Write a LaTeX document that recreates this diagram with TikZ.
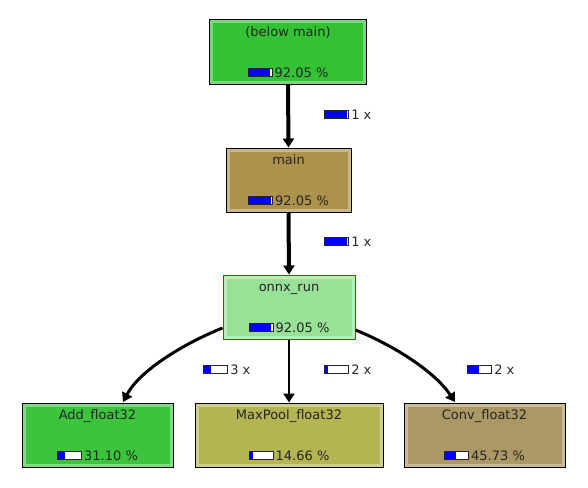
\documentclass[tikz,border=0pt]{standalone}
\usepackage{fontspec}
\setmainfont{DejaVu Sans}
\usetikzlibrary{arrows.meta}

\definecolor{fnGreen}{RGB}{51,194,51}
\definecolor{fnBrown}{RGB}{173,146,76}
\definecolor{fnLight}{RGB}{152,226,152}
\definecolor{fnAdd}{RGB}{60,196,60}
\definecolor{fnOlive}{RGB}{180,180,82}
\definecolor{fnTan}{RGB}{172,152,100}

% small cost bar, #1 = filled fraction
\newcommand*{\costbar}[1]{\tikz[baseline=-1pt]{%
  \fill[white] (0pt,0pt) rectangle (24pt,8pt);
  \fill[blue] (0pt,0pt) rectangle (#1*24pt,8pt);
  \draw[line width=0.9pt] (0pt,0pt) rectangle (24pt,8pt);}}

\tikzset{
  func/.style={draw=black,line width=1pt,minimum height=64pt,inner sep=0pt,
    path picture={\draw[white,opacity=0.35,line width=5pt]
      ([shift={(1pt,1pt)}]path picture bounding box.south west) rectangle ([shift={(-1pt,-1pt)}]path picture bounding box.north east);}},
  ftitle/.style={anchor=base,inner sep=0pt,text=black!85},
  fcost/.style={anchor=base,inner sep=0pt,text=black!85},
  calls/.style={anchor=west,inner sep=0pt,text=black!85},
  call/.style={line width=4pt,-{Triangle[length=9pt,width=11pt]}},
  thincall/.style={line width=2.6pt,-{Triangle[length=9pt,width=11pt]}},
}

\begin{document}
\begin{tikzpicture}[x=1pt,y=-1pt,font=\fontsize{13}{15}\selectfont]
\useasboundingbox (0,0) rectangle (588,487);
%%%%%%%%%%%%%%%%%%%%%%%%%%%%%% functions
\node[func,fill=fnGreen,minimum width=157pt] (below) at (288,52) {};
\node[func,fill=fnBrown,minimum width=125pt] (main) at (288.5,180) {};
\node[func,fill=fnLight,draw=red,minimum width=132pt] (onnx) at (289,307) {};
\node[func,fill=fnAdd,minimum width=151pt] (add) at (97.5,435) {};
\node[func,fill=fnOlive,minimum width=188pt] (maxpool) at (289,435) {};
\node[func,fill=fnTan,minimum width=161pt] (conv) at (484.5,435) {};
%%%%%%%%%%%%%%%%%%%%%%%%%%%%%% names and costs
\node[ftitle] (belowT) at ([yshift=-17pt]below.north) {(below main)};
\node[fcost] (belowC) at ([yshift=7.5pt]below.south) {\costbar{0.9205}\,92.05 \%};
\node[ftitle] (mainT) at ([yshift=-17pt]main.north) {main};
\node[fcost] (mainC) at ([yshift=7.5pt]main.south) {\costbar{0.9205}\,92.05 \%};
\node[ftitle] (onnxT) at ([yshift=-17pt]onnx.north) {onnx\_run};
\node[fcost] (onnxC) at ([yshift=7.5pt]onnx.south) {\costbar{0.9205}\,92.05 \%};
\node[ftitle] (addT) at ([yshift=-17pt]add.north) {Add\_float32};
\node[fcost] (addC) at ([yshift=7.5pt]add.south) {\costbar{0.311}\,31.10 \%};
\node[ftitle] (maxpoolT) at ([yshift=-17pt]maxpool.north) {MaxPool\_float32};
\node[fcost] (maxpoolC) at ([yshift=7.5pt]maxpool.south) {\costbar{0.1466}\,14.66 \%};
\node[ftitle] (convT) at ([yshift=-17pt]conv.north) {Conv\_float32};
\node[fcost] (convC) at ([yshift=7.5pt]conv.south) {\costbar{0.4573}\,45.73 \%};
%%%%%%%%%%%%%%%%%%%%%%%%%%%%%% calls
\draw[call] (below.south) -- (main.north);
\draw[call] (main.south) -- (onnx.north);
\draw[thincall] (onnx.south) -- (maxpool.north);
\coordinate (addIn) at (123,402);
\coordinate (convIn) at (455,402);
\draw[call,line width=3pt] ([yshift=-21pt]onnx.west) .. controls (185,343) and (140,370) .. (addIn);
\draw[call,line width=3pt] ([yshift=-23pt]onnx.east) .. controls (395,346) and (435,372) .. (convIn);
%%%%%%%%%%%%%%%%%%%%%%%%%%%%%% call counts
\node[calls] (c1) at (324,115) {\costbar{0.92}\,1 x};
\node[calls] (c2) at (324,242) {\costbar{0.92}\,1 x};
\node[calls] (c3) at (203,370) {\costbar{0.311}\,3 x};
\node[calls] (c4) at (324,370) {\costbar{0.1466}\,2 x};
\node[calls] (c5) at (467,370) {\costbar{0.4573}\,2 x};
\end{tikzpicture}
\end{document}
